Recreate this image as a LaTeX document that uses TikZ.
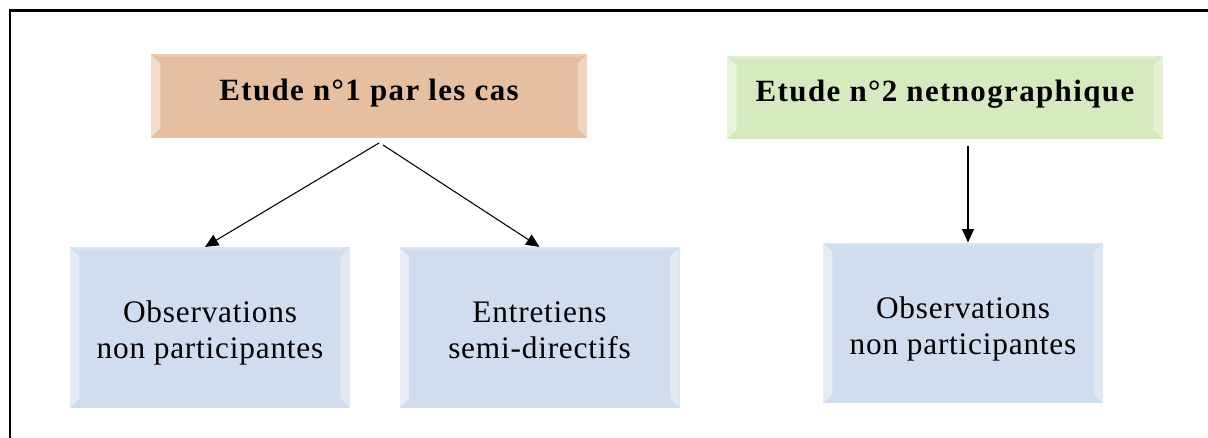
\documentclass[tikz,border=0pt]{standalone}
\usepackage{fontspec}
\setmainfont{Liberation Serif}
\newfontfamily\titlefont[LetterSpace=4.5]{Liberation Serif}
\newfontfamily\bodyfont[LetterSpace=2.5]{Liberation Serif}
\usetikzlibrary{arrows.meta}
\definecolor{peach}{RGB}{230,191,161}
\definecolor{sage}{RGB}{214,234,192}
\definecolor{paleblue}{RGB}{208,221,238}
% shift box contents vertically without changing their extent
\newcommand\liftline[2]{\raisebox{#1}[\height][\depth]{#2}}
\newcommand\twolines[3]{\raisebox{#1}[\height][\depth]{\begin{tabular}{@{}c@{}}#2\\#3\end{tabular}}}
\tikzset{
  bevelbox/.style={
    rectangle, draw=none, fill=#1, inner sep=0pt, align=center,
    path picture={
      \fill[white,opacity=0.45]
        (path picture bounding box.south west) -- (path picture bounding box.north west)
        -- ([shift={(7pt,-7pt)}]path picture bounding box.north west)
        -- ([shift={(7pt,7pt)}]path picture bounding box.south west) -- cycle;
      \fill[white,opacity=0.35]
        (path picture bounding box.south east) -- (path picture bounding box.north east)
        -- ([shift={(-7pt,-7pt)}]path picture bounding box.north east)
        -- ([shift={(-7pt,7pt)}]path picture bounding box.south east) -- cycle;
      \fill[white,opacity=0.25]
        (path picture bounding box.north west) -- (path picture bounding box.north east)
        -- ([shift={(-7pt,-2pt)}]path picture bounding box.north east)
        -- ([shift={(7pt,-2pt)}]path picture bounding box.north west) -- cycle;
    }},
  titlebox/.style={bevelbox=#1, minimum width=327pt, minimum height=62.5pt,
    font=\titlefont\fontsize{23.2}{27}\selectfont\bfseries},
  methodbox/.style={bevelbox=paleblue, minimum width=210pt, minimum height=120.5pt,
    font=\bodyfont\fontsize{23.5}{27.2}\selectfont},
  link/.style={line width=0.8pt, -{Triangle[length=10pt,width=9pt]}},
  frame/.style={line width=1.6pt}
}
\begin{document}
\begin{tikzpicture}[x=0.75pt,y=-0.75pt]
  \useasboundingbox (0,0) rectangle (1208,438);
  % outer frame, open to the right and bottom
  \coordinate (fa) at (10,438);
  \coordinate (fb) at (10,10.5);
  \coordinate (fc) at (1208,10.5);
  \draw[frame] (fa) -- (fb) -- (fc);

  % studies
  \node[titlebox=peach] (etude1) at (369,96) {\liftline{2.4pt}{Etude n°1 par les cas}};
  \node[titlebox=sage]  (etude2) at (945,97.5) {\liftline{2.4pt}{Etude n°2 netnographique}};

  % methods
  \node[methodbox] (obs1) at (210,327.5) {\twolines{-4.5pt}{Observations}{non participantes}};
  \node[methodbox] (entr) at (539.5,327.5) {\twolines{-4.5pt}{Entretiens}{semi-directifs}};
  \node[methodbox] (obs2) at (963,323) {\twolines{-4.5pt}{Observations}{non participantes}};

  % connectors
  \coordinate (s1) at (379,143);
  \coordinate (s2) at (383,145);
  \coordinate (s3) at (968,146);
  \draw[link] (s1) -- ([xshift=-3.75pt]obs1.north);
  \draw[link] (s2) -- (entr.north);
  \draw[link] (s3) -- ([xshift=3.75pt]obs2.north);
\end{tikzpicture}
\end{document}
